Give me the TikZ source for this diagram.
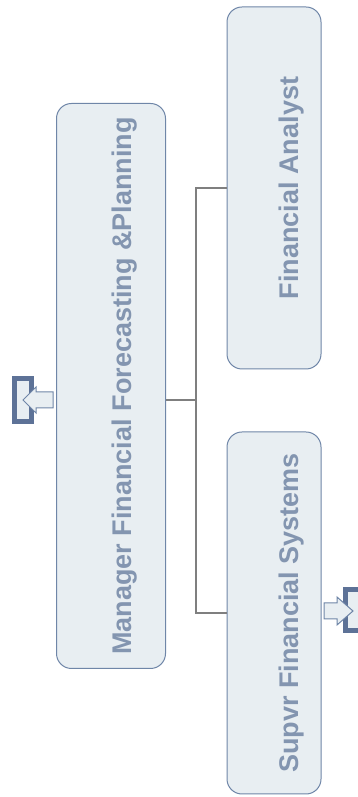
\documentclass[tikz,border=0pt]{standalone}
\usepackage{fontspec}
\setmainfont{Liberation Sans}
\usetikzlibrary{positioning}
\definecolor{boxfill}{HTML}{E8EEF2}
\definecolor{boxline}{HTML}{6F86A8}
\definecolor{txtcol}{HTML}{8395B0}
\definecolor{iconline}{HTML}{5D7297}
\definecolor{wire}{HTML}{7F7F7F}
\begin{document}
\begin{tikzpicture}[x=1pt, y=1pt, node distance=62pt,
			every node/.style={font=\fontsize{27}{30}\selectfont\bfseries},
			b/.style={draw=boxline, fill=boxfill, rounded corners=15pt, line width=1pt, inner sep=0pt},
			t/.style={rotate=90, text=txtcol, inner sep=0pt},
			wirel/.style={draw=wire, line width=1.5pt},
			icon/.style={draw=iconline, fill=boxfill, line width=4.5pt},
			arr/.style={draw=boxline, fill=boxfill, line width=1pt, line join=miter}]
			\useasboundingbox (0,0) rectangle (358,797);
			\clip (0,0) rectangle (358,797);
			\node[b, anchor=north west, minimum width=109pt, minimum height=565pt] (mgr) at (56,694) {};
			\node[t, yshift=-14pt] (mgrt) at (mgr.center) {Manager Financial Forecasting \&Planning};
			\node[b, minimum width=94pt, minimum height=362pt] (fa) at (274,609) {};
			\node[t, yshift=-18pt] (fat) at (fa.center) {Financial Analyst};
			\node[b, minimum width=94pt, minimum height=362pt, below=of fa] (sfs) {};
			\node[t, yshift=-18pt] (sfst) at (sfs.center) {Supvr Financial Systems};
			% connectors
			\coordinate (hub) at (196,397);
			\draw[wirel] (hub -| mgr.east) -- (hub);
			\draw[wirel] (fa.west) -| (hub) |- (sfs.west);
			% page links
			\draw[icon] (14.5,418.5) rectangle (31.5,375.5);
			\draw[arr] (23,397) -- (36,410) -- (36,405) -- (53,405) -- (53,389) -- (36,389) -- (36,384) -- cycle;
			\draw[icon] (365,207.5) rectangle (345.5,166.5);
			\draw[arr] (353,186) -- (337,200) -- (337,194) -- (324,194) -- (324,178) -- (337,178) -- (337,172) -- cycle;
		\end{tikzpicture}
\end{document}
